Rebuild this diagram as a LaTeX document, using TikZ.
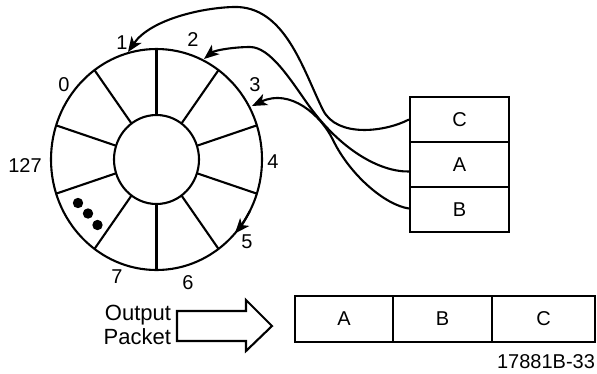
\documentclass[tikz,border=0pt]{standalone}
\usepackage{fontspec}
\setmainfont{Liberation Sans}
\usetikzlibrary{arrows.meta,calc}
\begin{document}
\begin{tikzpicture}[x=1pt,y=-1pt,line width=2.1pt,
  font=\fontsize{20}{24}\selectfont,
  lbl/.style={inner sep=0pt},
  arr/.style={-{Stealth[length=15pt,width=12pt,inset=4pt]}},
  cell/.style={draw,minimum width=99pt,minimum height=45pt,inner sep=0pt},
  pcell/.style={draw,minimum height=46pt,inner sep=0pt}]
\useasboundingbox (0,0) rectangle (597,373);
\coordinate (O) at (156.5,159.5);
% wheel
\draw (O) ellipse [x radius=105.5, y radius=110.5];
\draw (O) ellipse [x radius=42.5, y radius=44.5];
\foreach \a in {90,54,18,-18,-54,-90,-126,-162,162,126}
  \draw ($(O)+(\a:42.5 and 44.5)$) -- ($(O)+(\a:105.5 and 110.5)$);
\draw[arr] ($(O)+(28:105.5 and 110.5)$) arc[start angle=28,end angle=42,x radius=105.5,y radius=110.5];
\fill (78,203) circle[radius=5.2];
\fill (88,213.5) circle[radius=5.2];
\fill (97.5,225) circle[radius=5.2];
% slot labels
\node[lbl] (l1) at (122,43) {1};
\node[lbl] (l2) at (193,40) {2};
\node[lbl] (l3) at (255,85) {3};
\node[lbl] (l4) at (273,162) {4};
\node[lbl] (l5) at (247,242) {5};
\node[lbl] (l6) at (188,283) {6};
\node[lbl] (l7) at (117,277) {7};
\node[lbl] (l127) at (25,166) {127};
\node[lbl] (l0) at (64,85) {0};
% input buffer
\node[cell] (C) at (459.5,119.5) {C};
\node[cell] (A) at (459.5,164.5) {A};
\node[cell] (B) at (459.5,209.5) {B};
\coordinate (p1) at (128,52);
\coordinate (p2) at (204,59);
\coordinate (p3) at (252,106);
\draw[arr] (C.west) .. controls (385,132) and (337,138) .. (323,110)
  .. controls (303,70) and (285,5) .. (233,7)
  .. controls (200,8) and (150,20) .. (p1);
\draw[arr] ($(A.west)+(0,7)$) .. controls (380,172) and (340,150) .. (307,103)
  .. controls (290,79) and (270,47) .. (250,47)
  .. controls (235,47) and (215,50) .. (p2);
\draw[arr] ($(B.west)+(0,-1)$) .. controls (385,205) and (350,175) .. (333,140)
  .. controls (321,115) and (290,88) .. (p3);
% output
\node[lbl,align=right,anchor=east,font=\fontsize{22}{24}\selectfont] (out) at (172,325) {Output\\Packet};
\draw (177,311) -- (246,311) -- (246,300) -- (272,326) -- (246,351) -- (246,341) -- (177,341) -- cycle;
\node[pcell,minimum width=98pt] (oA) at (344,319) {A};
\node[pcell,minimum width=99pt] (oB) at (442.5,319) {B};
\node[pcell,minimum width=103pt] (oC) at (543.5,319) {C};
\node[lbl,anchor=east] (id) at (596,362) {17881B-33};
\end{tikzpicture}
\end{document}
